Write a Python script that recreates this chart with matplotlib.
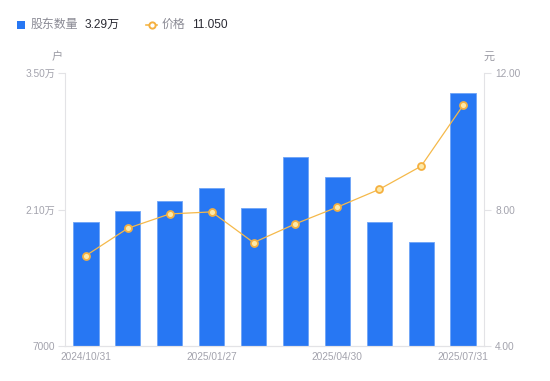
import matplotlib
matplotlib.use("Agg")
import matplotlib.pyplot as plt
from matplotlib.lines import Line2D
from matplotlib.patches import Rectangle

dates = ["2024/10/31", "2024/11/29", "2024/12/31", "2025/01/27", "2025/02/28",
         "2025/03/31", "2025/04/30", "2025/05/30", "2025/06/30", "2025/07/31"]
holders = [19690, 20820, 21840, 23170, 21150, 26350, 24360, 19720, 17700, 32900]
prices = [6.65, 7.45, 7.87, 7.93, 7.03, 7.58, 8.07, 8.59, 9.27, 11.05]
left_ticks = [7000, 21000, 35000]
left_labels = ["7000", "2.10万", "3.50万"]
right_ticks = [4, 8, 12]
right_labels = ["4.00", "8.00", "12.00"]
xtick_idx = [0, 3, 6, 9]

FONT = ["Liberation Sans", "Noto Sans CJK SC", "DejaVu Sans"]
plt.rcParams["font.family"] = FONT

W, H = 550, 381
fig = plt.figure(figsize=(W / 100, H / 100), dpi=100)
ax = fig.add_axes([65 / W, 1 - 346 / H, (484 - 65) / W, (346 - 73) / H])
ax2 = ax.twinx()

bar_color = "#2777f3"
line_color = "#f5b94a"
tick_color = "#a3a3ad"
axis_color = "#e3e3e6"

x = list(range(len(dates)))
ax.bar(x, holders, width=0.6, color=bar_color, edgecolor="#6ea4f7", linewidth=0.6, zorder=2)
ax.set_xlim(-0.5, len(dates) - 0.5)
ax.set_ylim(left_ticks[0], left_ticks[-1])
ax.set_yticks(left_ticks)
ax.set_yticklabels(left_labels)
ax.set_xticks(xtick_idx)
ax.set_xticklabels([dates[i] for i in xtick_idx])

ax2.plot(x, prices, color=line_color, linewidth=0.9, marker="o", markersize=5,
         markerfacecolor="#fde9a8", markeredgecolor="#f5b040", markeredgewidth=1.3, zorder=3)
ax2.set_ylim(right_ticks[0], right_ticks[-1])
ax2.set_yticks(right_ticks)
ax2.set_yticklabels(right_labels)

for a in (ax, ax2):
    for s in a.spines.values():
        s.set_color(axis_color)
        s.set_linewidth(0.8)
    a.spines["top"].set_visible(False)
    a.tick_params(colors=axis_color, labelcolor=tick_color, labelsize=7.3, length=5, width=0.8)
ax.tick_params(axis="x", length=0, pad=4)
ax.tick_params(axis="y", pad=2)
ax2.tick_params(axis="y", pad=3)
ax2.spines["left"].set_visible(False)
ax.spines["right"].set_visible(False)

# unit labels
fig.text(57 / W, 1 - 57 / H, "户", ha="center", va="center", fontsize=8, color="#9a9aa3")
fig.text(489 / W, 1 - 57 / H, "元", ha="center", va="center", fontsize=8, color="#9a9aa3")

# legend
fig.patches.append(Rectangle((17 / W, 1 - 28.5 / H), 8 / W, 8 / H, transform=fig.transFigure,
                             facecolor=bar_color, edgecolor="none"))
fig.text(31 / W, 1 - 24.5 / H, "股东数量", ha="left", va="center", fontsize=8.6, color="#8a8a94")
fig.text(85 / W, 1 - 24.5 / H, "3.29万", ha="left", va="center", fontsize=8.6, color="#2a2a33")
fig.add_artist(Line2D([146 / W, 157 / W], [1 - 24.5 / H, 1 - 24.5 / H], transform=fig.transFigure,
                      color=line_color, linewidth=1.2))
fig.add_artist(Line2D([151.5 / W], [1 - 24.5 / H], transform=fig.transFigure, marker="o",
                      markersize=4.5, markerfacecolor="white", markeredgecolor="#f5b040",
                      markeredgewidth=1.4))
fig.text(162 / W, 1 - 24.5 / H, "价格", ha="left", va="center", fontsize=8.6, color="#8a8a94")
fig.text(192 / W, 1 - 24.5 / H, "11.050", ha="left", va="center", fontsize=8.6, color="#2a2a33")

fig.savefig("out.png", dpi=100)
